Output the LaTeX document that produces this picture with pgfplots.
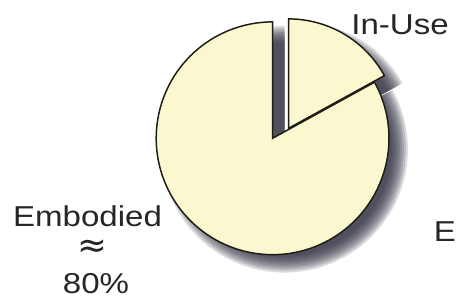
\documentclass[border=0pt]{standalone}
\usepackage{pgfplots}
\pgfplotsset{compat=1.18}
\usepackage{pgfplotstable}
\usepackage{fontspec}
\setmainfont{Liberation Sans}
\newfontfamily\lab{Liberation Sans}[FakeStretch=1.15]
\newfontfamily\sym{DejaVu Sans}
\definecolor{piefill}{RGB}{251,247,206}
\definecolor{pieline}{RGB}{30,30,22}
\definecolor{shadowc}{RGB}{40,40,58}

\pgfplotstableread{
label value
Embodied 83
In-Use 17
}\piedata
\pgfplotstablegetelem{0}{value}\of\piedata \let\vEmb\pgfplotsretval
\pgfplotstablegetelem{1}{value}\of\piedata \let\vUse\pgfplotsretval
\pgfmathsetmacro\aUse{90-3.6*\vUse}
\pgfmathsetmacro\aEmbEnd{90+3.6*\vEmb}

\begin{document}
\begin{tikzpicture}
\begin{axis}[
  width=456bp, height=301bp, scale only axis,
  xmin=0, xmax=456, ymin=0, ymax=301,
  hide axis, clip=false,
]
\path (rel axis cs:0,0) rectangle (rel axis cs:1,1);
% shadows
\pgfplotsinvokeforeach{-6,-4,-2,0,2,4,6,8,10}{
\addplot[draw=none, fill=shadowc, fill opacity=0.17, domain=90:\aEmbEnd, samples=90, variable=\t]
  ({286+(114+#1)*cos(\t)},{151+(114+#1)*sin(\t)}) -- (axis cs:286,151) -- cycle;
\addplot[draw=none, fill=shadowc, fill opacity=0.17, domain=\aUse:90, samples=40, variable=\t]
  ({302+(107+#1)*cos(\t)},{161+(107+#1)*sin(\t)}) -- (axis cs:302,161) -- cycle;
}
% Embodied slice
\addplot[fill=piefill, draw=pieline, line width=1.5pt, line join=miter, domain=90:\aEmbEnd, samples=120, variable=\t]
  ({274+117*cos(\t)},{162+117*sin(\t)}) -- (axis cs:274,162) -- cycle;
% In-Use slice (exploded)
\addplot[fill=piefill, draw=pieline, line width=1.5pt, line join=miter, domain=\aUse:90, samples=40, variable=\t]
  ({290+110*cos(\t)},{172+110*sin(\t)}) -- (axis cs:290,172) -- cycle;
% labels
\node[anchor=base west, inner sep=0pt, text=black!85, font=\lab\fontsize{29}{34}\selectfont] at (axis cs:353,266) {In-Use};
\node[anchor=base west, inner sep=0pt, text=black!85, font=\lab\fontsize{29}{34}\selectfont] at (axis cs:13,73) {Embodied};
\node[anchor=center, inner sep=0pt, text=black!85, font=\sym\fontsize{36}{40}\selectfont] at (axis cs:93,51) {≈};
\node[anchor=base west, inner sep=0pt, text=black!85, font=\lab\fontsize{29}{34}\selectfont] at (axis cs:63,6) {80\%};
\node[anchor=base west, inner sep=0pt, text=black!85, font=\lab\fontsize{29}{34}\selectfont] at (axis cs:436,58) {E};
\end{axis}
\end{tikzpicture}
\end{document}
